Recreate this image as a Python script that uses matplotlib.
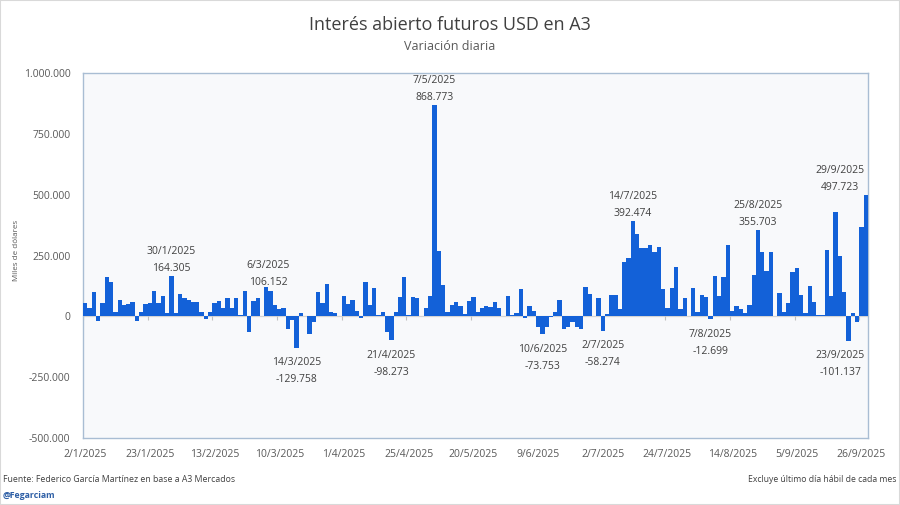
import numpy as np
import matplotlib
matplotlib.use("Agg")
import matplotlib.pyplot as plt
from matplotlib.ticker import FuncFormatter, FixedLocator
from matplotlib.patches import Rectangle

plt.rcParams['font.family'] = ['Open Sans', 'DejaVu Sans']

# Daily change in open interest of USD futures at A3 (miles de dólares)
values = [
    53000, 36000, 100000, -19000, 56000, 160000, 142000, 19000, 67000, 47000,
    51000, 60000, -18000, 19000, 51000, 53000, 105000, 53000, 84000, 15000,
    164305, 15000, 90000, 74000, 67000, 60000, 60000, 19000, -11000, 19000,
    53000, 64000, 33000, 74000, 33000, 74000, 5000, 105000, -63000, 64000,
    74000, 1000, 119000, 106152, 47000, 29000, 36000, -53000, -15000, -129758,
    12000, 2000, -74000, -22000, 99000, 53000, 131000, 16000, 15000, 2000,
    84000, 51000, 67000, 23000, -8000, 140000, 47000, 118000, 5000, 16000,
    -63000, -98273, 19000, 81000, 163000, 5000, 81000, 77000, 2000, 33000,
    85000, 868773, 268000, 129000, 19000, 47000, 60000, 42000, 10000, 63000,
    81000, 16000, 36000, 44000, 40000, 60000, 36000, 2000, 84000, 5000,
    15000, 112000, -8000, 42000, 23000, -45000, -73753, -42000, -4000, 19000,
    67000, -52000, -45000, -22000, -42000, -53000, 119000, 90000, 2000, 77000,
    -58274, 8000, 89000, 88000, 30000, 222000, 238000, 392474, 338000, 280000,
    282000, 293000, 263000, 286000, 112000, 34000, 116000, 201000, 30000, 75000,
    2000, 116000, 16000, 89000, 78000, -12699, 167000, 85000, 163000, 293000,
    23000, 44000, 30000, 14000, 48000, 170000, 355703, 263000, 188000, 266000,
    2000, 96000, 16000, 53000, 184000, 197000, 89000, 14000, 123000, 58000,
    5000, 7000, 274000, 82000, 427000, 248000, 99000, -101137, 15000, -25000,
    366000, 497723,
]

tick_labels = ["2/1/2025", "23/1/2025", "13/2/2025", "10/3/2025", "1/4/2025",
               "25/4/2025", "20/5/2025", "9/6/2025", "2/7/2025", "24/7/2025",
               "14/8/2025", "5/9/2025", "26/9/2025"]
tick_step = 15

ann_index = [20, 43, 49, 71, 81, 106, 120, 127, 145, 156, 177, 181]
ann_dates = ["30/1/2025", "6/3/2025", "14/3/2025", "21/4/2025", "7/5/2025",
             "10/6/2025", "2/7/2025", "14/7/2025", "7/8/2025", "25/8/2025",
             "23/9/2025", "29/9/2025"]

y_ticks = [-500000, -250000, 0, 250000, 500000, 750000, 1000000]


def fmt(v):
    s = f"{abs(int(round(v))):,}".replace(",", ".")
    return ("-" if v < 0 else "") + s


W, H = 900, 505
fig = plt.figure(figsize=(W / 100, H / 100), dpi=100)
fig.patch.set_facecolor('white')
fig.patches.append(Rectangle((0, 0), 1, 1, transform=fig.transFigure,
                             fill=False, edgecolor='#d9d9d9', lw=1.5))

ax_l, ax_r, ax_t, ax_b = 83, 868, 73, 438
ax = fig.add_axes([ax_l / W, 1 - ax_b / H, (ax_r - ax_l) / W, (ax_b - ax_t) / H])
ax.set_facecolor('#f8f9fb')

x = np.arange(len(values))
ax.bar(x, values, width=1.0, color='#1361d8', linewidth=0, zorder=3)
ax.axhline(0, color='#d4d4d4', lw=0.9, zorder=2)

ax.set_xlim(-0.5, len(values) - 0.5)
ax.set_ylim(y_ticks[0], y_ticks[-1])

tick_pos = np.arange(len(tick_labels)) * tick_step
ax.xaxis.set_major_locator(FixedLocator(tick_pos))
ax.set_xticklabels(tick_labels)
ax.yaxis.set_major_locator(FixedLocator(y_ticks))
ax.yaxis.set_major_formatter(FuncFormatter(lambda v, p: fmt(v)))
ax.tick_params(axis='both', length=0, colors='#595959', labelsize=7.5)
ax.tick_params(axis='y', pad=9)
ax.tick_params(axis='x', pad=8)

# small category tick marks on the zero line
span = y_ticks[-1] - y_ticks[0]
tlen = span * 4 / (ax_b - ax_t)
ax.vlines(tick_pos - 0.5, -tlen, 0, color='#bfbfbf', lw=0.8, zorder=2)

for s in ax.spines.values():
    s.set_color('#a9bdd3')
    s.set_linewidth(1.0)

label_dx = {43: -2.0, 177: -5.8, 181: -18.7}
for idx, d in zip(ann_index, ann_dates):
    v = values[idx]
    dx = label_dx.get(idx, 0.0)
    kw = dict(textcoords='offset points', ha='center', va='baseline',
              fontsize=7.5, color='#404040', zorder=5, annotation_clip=False)
    if v >= 0:
        ax.annotate(fmt(v), xy=(idx, v), xytext=(dx, 3.8), **kw)
        ax.annotate(d, xy=(idx, v), xytext=(dx, 16.0), **kw)
    else:
        ax.annotate(d, xy=(idx, v), xytext=(dx, -12.6), **kw)
        ax.annotate(fmt(v), xy=(idx, v), xytext=(dx, -24.8), **kw)

fig.text(0.5, 1 - 25 / H, "Interés abierto futuros USD en A3", ha='center',
         va='center', fontsize=13, color='#404040')
fig.text(0.5, 1 - 47 / H, "Variación diaria", ha='center', va='center',
         fontsize=9, color='#595959')
fig.text(17 / W, 1 - 250 / H, "Miles de dólares", rotation=90, ha='center',
         va='center', fontsize=5.8, color='#595959')
fig.text(3 / W, 1 - 479 / H, "Fuente: Federico García Martínez en base a A3 Mercados",
         ha='left', va='center', fontsize=6.3, color='#404040')
fig.text(897 / W, 1 - 479 / H, "Excluye último día hábil de cada mes",
         ha='right', va='center', fontsize=6.2, color='#404040')
fig.text(3 / W, 1 - 496 / H, "@Fegarciam", ha='left', va='center',
         fontsize=6.3, color='#2e5fa6', fontweight='bold')

fig.savefig("out.png", dpi=100)
